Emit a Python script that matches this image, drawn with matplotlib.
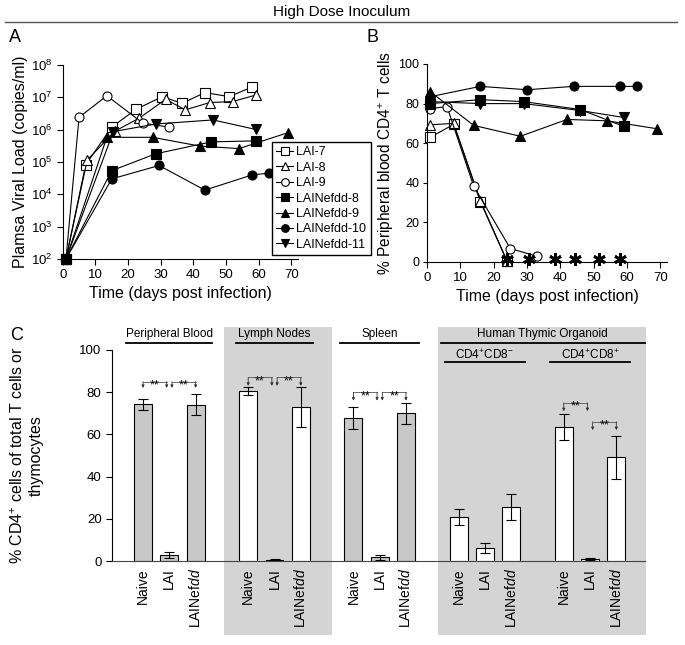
import matplotlib
matplotlib.use("Agg")
import matplotlib.pyplot as plt
from matplotlib.patches import Rectangle
from matplotlib.lines import Line2D

plt.rcParams["font.family"] = ["Liberation Sans", "DejaVu Sans"]
plt.rcParams["mathtext.fontset"] = "custom"
plt.rcParams["mathtext.rm"] = "Liberation Sans"
plt.rcParams["mathtext.it"] = "Liberation Sans:italic"
plt.rcParams["mathtext.bf"] = "Liberation Sans:bold"

W, H = 685, 645

# ---------- data: panel A (plasma viral load, copies/ml) ----------
SERIES = ["LAI-7", "LAI-8", "LAI-9", "LAINefdd-8", "LAINefdd-9", "LAINefdd-10", "LAINefdd-11"]

A_DAYS = {
    "LAI-7": [1, 7, 15, 22.5, 30.5, 36.5, 43.5, 51, 58],
    "LAI-8": [1, 7.5, 16, 23.5, 31.5, 37.5, 45, 52, 59],
    "LAI-9": [1, 5, 13.5, 24.5, 32.5],
    "LAINefdd-8": [1, 15, 28.5, 45.5, 59],
    "LAINefdd-9": [1, 13.5, 27.5, 42, 54, 69],
    "LAINefdd-10": [1, 15, 29.5, 43.5, 58, 63],
    "LAINefdd-11": [1, 15.5, 28.5, 46, 59],
}
A_VL = {
    "LAI-7": [1e2, 8.1e4, 1.2e6, 4.3e6, 1.05e7, 6.5e6, 1.4e7, 1.05e7, 2.1e7],
    "LAI-8": [1e2, 1.15e5, 9.0e5, 2.3e6, 8.7e6, 4.1e6, 6.9e6, 7.4e6, 1.17e7],
    "LAI-9": [1e2, 2.4e6, 1.12e7, 1.6e6, 1.2e6],
    "LAINefdd-8": [1e2, 5.4e4, 1.8e5, 4.2e5, 4.5e5],
    "LAINefdd-9": [1e2, 5.8e5, 5.8e5, 3.1e5, 2.6e5, 8.1e5],
    "LAINefdd-10": [1e2, 3.0e4, 7.8e4, 1.35e4, 4.0e4, 4.5e4],
    "LAINefdd-11": [1e2, 8.7e5, 1.5e6, 2.0e6, 1.02e6],
}

# ---------- data: panel B (% peripheral blood CD4+ T cells) ----------
B_DAYS = {
    "LAI-7": [1, 8, 16, 24],
    "LAI-8": [1, 8, 16, 24],
    "LAI-9": [1, 6, 14, 25, 33],
    "LAINefdd-8": [1, 16, 29, 46, 59],
    "LAINefdd-9": [1, 14, 28, 42, 54, 69],
    "LAINefdd-10": [1, 16, 30, 44, 58, 63],
    "LAINefdd-11": [1, 16, 29, 46, 59],
}
B_CD4 = {
    "LAI-7": [63, 69.5, 30.5, 0.5],
    "LAI-8": [69.3, 70, 31, 0.5],
    "LAI-9": [77.5, 78.5, 38.3, 6.8, 2.9],
    "LAINefdd-8": [80, 82, 81, 77, 68.5],
    "LAINefdd-9": [86, 69, 63.5, 72, 71.3, 67.3],
    "LAINefdd-10": [83.5, 88.7, 87, 88.7, 88.7, 88.7],
    "LAINefdd-11": [81, 80, 80, 76.5, 73],
}
DEATH_DAYS = [24, 30.5, 38.5, 44.5, 51.5, 58]
DEATH_Y = [1.5, 1.5, 1.5, 1.5, 1.5, 1.5]

# ---------- data: panel C (% CD4+ cells) ----------
C_GROUPS = ["Peripheral Blood", "Lymph Nodes", "Spleen",
            r"CD4$^{+}$CD8$^{-}$", r"CD4$^{+}$CD8$^{+}$"]
C_CONDS = ["Naive", "LAI", r"LAINef$\it{dd}$"]
C_MEANS = [[74.4, 2.8, 74.0],
           [80.6, 0.6, 73.0],
           [67.8, 1.8, 70.0],
           [20.8, 6.1, 25.5],
           [63.5, 1.0, 49.2]]
C_ERRS = [[2.6, 1.5, 5.0],
          [2.0, 0.2, 9.5],
          [5.3, 1.2, 5.0],
          [3.7, 2.4, 6.3],
          [6.0, 0.3, 10.2]]
# significance brackets: (group, from cond, to cond, bracket top, arrow end)
C_SIG = [(0, 0, 1, 85, 82), (0, 1, 2, 85, 82),
         (1, 0, 1, 87, 83), (1, 1, 2, 87, 83),
         (2, 0, 1, 80, 76), (2, 1, 2, 80, 76),
         (4, 0, 1, 75, 71), (4, 1, 2, 66, 62)]

STYLE = {
    "LAI-7": dict(marker="s", mfc="white"),
    "LAI-8": dict(marker="^", mfc="white"),
    "LAI-9": dict(marker="o", mfc="white"),
    "LAINefdd-8": dict(marker="s", mfc="black"),
    "LAINefdd-9": dict(marker="^", mfc="black"),
    "LAINefdd-10": dict(marker="o", mfc="black"),
    "LAINefdd-11": dict(marker="v", mfc="black"),
}

fig = plt.figure(figsize=(W / 100, H / 100), dpi=100)


def px_axes(left, top, right, bottom):
    return fig.add_axes([left / W, 1 - bottom / H, (right - left) / W, (bottom - top) / H])


def style_axes(ax, size=9.5):
    ax.spines["top"].set_visible(False)
    ax.spines["right"].set_visible(False)
    ax.tick_params(direction="out", length=4, width=0.8, labelsize=size)
    ax.patch.set_alpha(0)


# title + rule
fig.text(342 / W, 1 - 12 / H, "High Dose Inoculum", ha="center", va="center", fontsize=11)
fig.add_artist(Line2D([5 / W, 677 / W], [1 - 22 / H, 1 - 22 / H], color="#555555", lw=1))
fig.text(15 / W, 1 - 38 / H, "A", ha="center", va="center", fontsize=13)
fig.text(373 / W, 1 - 38 / H, "B", ha="center", va="center", fontsize=13)
fig.text(17 / W, 1 - 336 / H, "C", ha="center", va="center", fontsize=13)

# ---------- panel A ----------
axA = px_axes(62.7, 65, 298, 259)
style_axes(axA)
for name in SERIES:
    axA.plot(A_DAYS[name], A_VL[name], color="black", lw=0.8, ms=6.5, mec="black",
             mew=0.8, label=name, clip_on=False, **STYLE[name])
axA.set_yscale("log")
axA.set_ylim(1e2, 1e8)
axA.set_xlim(0, 72)
axA.set_xticks(range(0, 71, 10))
axA.minorticks_off()
axA.set_xlabel("Time (days post infection)", fontsize=11.5, labelpad=3)
axA.set_ylabel("Plamsa Viral Load (copies/ml)", fontsize=11.5)
axA.yaxis.set_label_coords(-0.147, 0.5)
axA.legend(loc="upper left", bbox_to_anchor=(272 / W, 1 - 142 / H), bbox_transform=fig.transFigure,
           fontsize=9, frameon=True, fancybox=False, edgecolor="black", framealpha=1,
           borderpad=0.35, labelspacing=0.27, handlelength=1.3, handletextpad=0.3,
           borderaxespad=0, markerscale=0.85)

# ---------- panel B ----------
axB = px_axes(427, 64, 667, 262)
style_axes(axB, size=9)
axB.tick_params(axis="x", labelsize=9.5)
axB.tick_params(axis="y", length=3, pad=2.5)
for name in SERIES:
    axB.plot(B_DAYS[name], B_CD4[name], color="black", lw=0.8, ms=6.5, mec="black",
             mew=0.8, clip_on=False, **STYLE[name])
axB.plot(DEATH_DAYS, DEATH_Y, ls="none", marker=(6, 2, 0), ms=9, mew=2, color="black",
         clip_on=False)
axB.set_xlim(0, 72)
axB.set_ylim(0, 100)
axB.set_xticks(range(0, 71, 10))
axB.set_yticks(range(0, 101, 20))
axB.set_xlabel("Time (days post infection)", fontsize=11.5, labelpad=3)
axB.set_ylabel(r"% Peripheral blood CD4$^{+}$ T cells", fontsize=11.2)
axB.yaxis.set_label_coords(-0.13, 0.5)

# ---------- panel C ----------
# shaded backgrounds for lymph nodes and thymic organoid
for x0, x1 in [(224, 332), (438, 646)]:
    fig.add_artist(Rectangle((x0 / W, 1 - 635 / H), (x1 - x0) / W, (635 - 327) / H,
                             transform=fig.transFigure, facecolor="#d4d4d4",
                             edgecolor="none", zorder=-5))

axC = px_axes(112, 350, 645, 561)
style_axes(axC)
axC.set_xlim(-1.18, 19.09)
axC.set_ylim(0, 100)
axC.set_yticks(range(0, 101, 20))
bar_colors = ["#c8c8c8", "white", "#c8c8c8", "white", "white"]
positions, labels = [], []
for g, (means, errs) in enumerate(zip(C_MEANS, C_ERRS)):
    xs = [g * 4 + i for i in range(len(C_CONDS))]
    axC.bar(xs, means, width=0.68, color=bar_colors[g], edgecolor="black", linewidth=0.8,
            yerr=errs, capsize=3.5, error_kw=dict(elinewidth=0.8, capthick=0.8))
    positions += xs
    labels += C_CONDS
axC.set_xticks(positions)
axC.set_xticklabels(labels, rotation=90, fontsize=10)
axC.tick_params(axis="x", length=0, pad=5)
axC.spines["bottom"].set_color("#444444")
axC.set_ylabel("% CD4$^{+}$ cells of total T cells or\nthymocytes", fontsize=11.5,
               multialignment="center")
axC.yaxis.set_label_coords(-0.128, 0.5)

# group headings with underlines
heads = [(1, 107.6, 103.3, 1.63), (5, 107.6, 103.3, 1.48), (9, 107.6, 103.3, 1.5),
         (13, 97.6, 94.3, 1.52), (17, 97.6, 94.3, 1.52)]
for (cx, ty, ly, hw), name in zip(heads, C_GROUPS):
    axC.text(cx, ty, name, ha="center", va="center", fontsize=8.5, clip_on=False)
    axC.plot([cx - hw, cx + hw], [ly, ly], color="black", lw=1.3, clip_on=False)
axC.text(15.2, 107.6, "Human Thymic Organoid", ha="center", va="center", fontsize=8.5)
axC.plot([15.2 - 3.88, 15.2 + 3.88], [103.3, 103.3], color="black", lw=1.3, clip_on=False)

# significance brackets
for g, a, b, ytop, yend in C_SIG:
    x1 = g * 4 + a + (0.1 if a == 1 else 0)
    x2 = g * 4 + b - (0.1 if b == 1 else 0)
    axC.plot([x1, x2], [ytop, ytop], color="#555555", lw=0.6)
    for x in (x1, x2):
        axC.annotate("", xy=(x, yend), xytext=(x, ytop),
                     arrowprops=dict(arrowstyle="-|>", lw=0.6, color="#333333",
                                     mutation_scale=4, shrinkA=0, shrinkB=0))
    axC.text((x1 + x2) / 2, ytop - 1.9, "**", ha="center", va="center", fontsize=9)

fig.savefig("out.png", dpi=100)
